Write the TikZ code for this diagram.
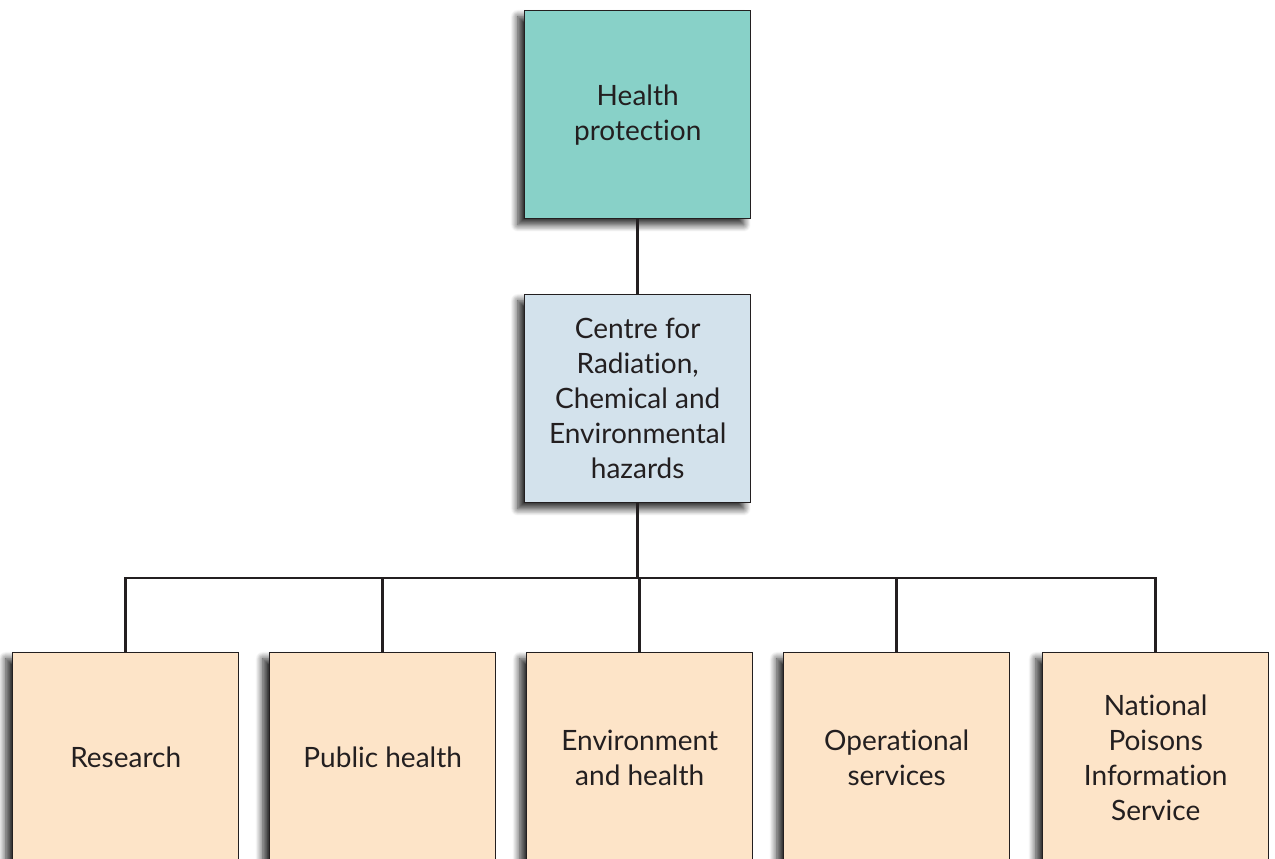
\documentclass[tikz,border=0pt]{standalone}
\usepackage{fontspec}
\setmainfont{Lato}[Ligatures={NoCommon}]
\usetikzlibrary{shadows.blur}
\definecolor{ink}{HTML}{231F20}
\definecolor{tealbox}{HTML}{88D1C8}
\definecolor{bluebox}{HTML}{D3E2EC}
\definecolor{peachbox}{HTML}{FDE4C8}
\tikzset{
  unit/.style={draw=ink, line width=1.4pt, anchor=north west, minimum width=226pt, minimum height=208pt,
    align=center, text=ink, font=\fontsize{28}{35}\selectfont, inner sep=0pt,
    blur shadow={shadow xshift=-7pt, shadow yshift=-6pt, shadow blur steps=10, shadow blur radius=7pt, shadow opacity=85}},
  link/.style={draw=ink, line width=2.6pt}
}
\begin{document}
\begin{tikzpicture}[x=1pt,y=-1pt]
\useasboundingbox (0,0) rectangle (1275,859);
\clip (0,0) rectangle (1275,859);
\node[unit, fill=tealbox] (hp) at (524,10) {Health\\protection};
\node[unit, fill=bluebox] (cr) at (524,294) {Centre for\\Radiation,\\Chemical and\\Environmental\\hazards};
\node[unit, fill=peachbox, minimum height=210pt] (r1) at (12,652) {Research};
\node[unit, fill=peachbox, minimum height=210pt] (r2) at (269,652) {Public health};
\node[unit, fill=peachbox, minimum height=210pt] (r3) at (526,652) {Environment\\and health};
\node[unit, fill=peachbox, minimum height=210pt] (r4) at (783,652) {Operational\\services};
\node[unit, fill=peachbox, minimum height=210pt] (r5) at (1042,652) {National\\Poisons\\Information\\Service};
\coordinate (bar) at (638,578);
\draw[link] (hp.south) -- (cr.north);
\draw[link] (cr.south) -- (cr.south |- bar);
\draw[link] (r1.north) |- (bar) -| (r5.north);
\draw[link] (r2.north) -- (r2.north |- bar);
\draw[link] (r3.north) -- (r3.north |- bar);
\draw[link] (r4.north) -- (r4.north |- bar);
\end{tikzpicture}
\end{document}
